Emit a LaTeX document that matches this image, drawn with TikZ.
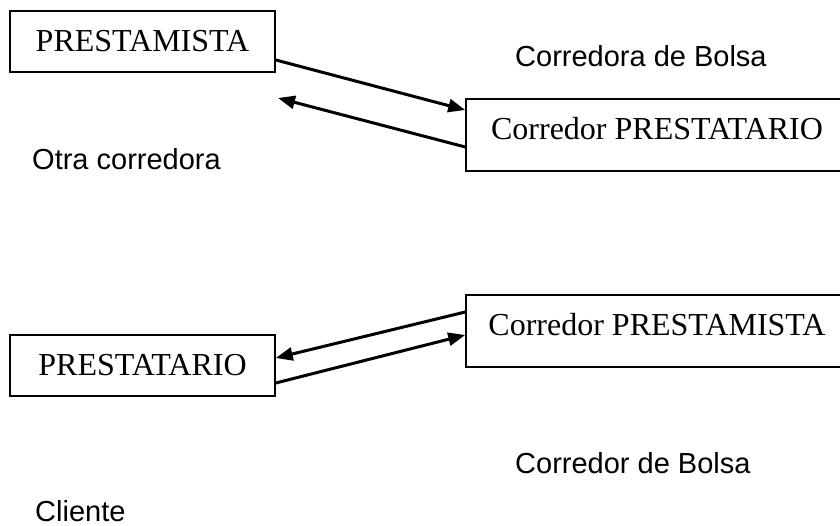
\documentclass[tikz,border=0pt]{standalone}
\usepackage{fontspec}
\setmainfont{Liberation Serif}
\newfontfamily\sansf{Liberation Sans}
\usetikzlibrary{arrows.meta}
\begin{document}
\begin{tikzpicture}[x=1pt,y=-1pt,
  boxsmall/.style={draw,line width=1.5pt,rectangle,inner sep=0pt,
    minimum width=265pt,minimum height=61pt,
    font=\fontsize{32pt}{38pt}\selectfont},
  boxbig/.style={draw,line width=1.5pt,rectangle,inner sep=0pt,
    minimum width=382pt,minimum height=72pt,text height=22pt,text depth=13pt,
    font=\fontsize{32pt}{38pt}\selectfont},
  lbl/.style={anchor=base west,inner sep=0pt,font=\sansf\fontsize{29pt}{34pt}\selectfont},
  conn/.style={line width=3pt,-{Triangle[length=17pt,width=13pt]}}]
\useasboundingbox (0,0) rectangle (840,526);
\clip (0,0) rectangle (840,526);
\node[boxsmall] (p1) at (142.5,41.5) {PRESTAMISTA};
\node[boxbig] (c1) at (657,135) {Corredor PRESTATARIO};
\node[boxbig] (c2) at (657,331) {Corredor PRESTAMISTA};
\node[boxsmall] (p2) at (142.5,365.5) {PRESTATARIO};
\node[lbl] (t1) at (515,67) {Corredora de Bolsa};
\node[lbl] (t2) at (32,170) {Otra corredora};
\node[lbl] (t3) at (515,473) {Corredor de Bolsa};
\node[lbl] (t4) at (35,521) {Cliente};
\coordinate (a2end) at (278,98);
\draw[conn] ([yshift=-18.5pt]p1.east) -- ([yshift=25pt]c1.west);
\draw[conn] ([yshift=-12pt]c1.west) -- (a2end);
\draw[conn] ([yshift=19pt]c2.west) -- ([yshift=7.5pt]p2.east);
\draw[conn] ([yshift=-17.5pt]p2.east) -- ([yshift=-4pt]c2.west);
\end{tikzpicture}
\end{document}
